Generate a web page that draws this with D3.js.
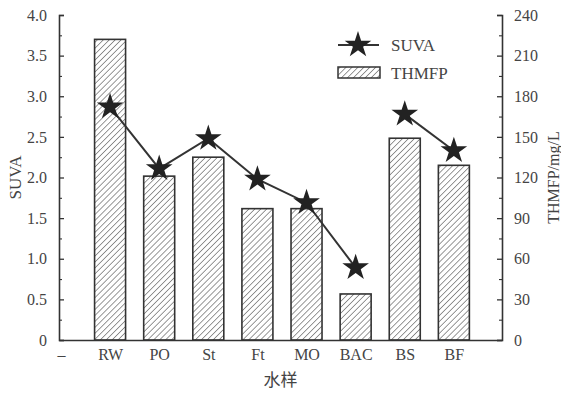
<!DOCTYPE html>
<html>
<head>
<meta charset="utf-8">
<script src="https://cdn.jsdelivr.net/npm/d3@7"></script>
<style>
  body { margin: 0; background: #fff; }
  svg { display: block; }
</style>
</head>
<body>
<div id="chart"></div>
<script>
// tick labels on x axis (first one is the blank "–" slot)
const tickLabels = ['–', 'RW', 'PO', 'St', 'Ft', 'MO', 'BAC', 'BS', 'BF'];
const samples = ['RW', 'PO', 'St', 'Ft', 'MO', 'BAC', 'BS', 'BF'];
const suva = [2.87, 2.11, 2.48, 1.98, 1.69, 0.89, 2.78, 2.33];
const thmfp = [222, 121, 135, 97, 97, 34, 149, 129];
// line segments of the SUVA series
const suvaGroups = [['RW', 'PO', 'St', 'Ft', 'MO', 'BAC'], ['BS', 'BF']];

const width = 561, height = 393;
const margin = {top: 15, right: 59, bottom: 53, left: 59};
const ink = '#333';
const serif = '"Liberation Serif", "Times New Roman", serif';

const svg = d3.select('#chart').append('svg')
  .attr('width', width)
  .attr('height', height);

const defs = svg.append('defs');
const pat = defs.append('pattern')
  .attr('id', 'hatch')
  .attr('patternUnits', 'userSpaceOnUse')
  .attr('width', 4.2).attr('height', 4.2)
  .attr('patternTransform', 'rotate(45)');
pat.append('line')
  .attr('x1', 0).attr('y1', 0).attr('x2', 0).attr('y2', 4.2)
  .attr('stroke', '#444').attr('stroke-width', 1.1);

const x = d3.scaleLinear()
  .domain([-0.04, 8.98])
  .range([margin.left, width - margin.right]);

const yL = d3.scaleLinear()
  .domain([0, 4])
  .range([height - margin.bottom, margin.top]);

const yR = d3.scaleLinear()
  .domain([0, 240])
  .range([height - margin.bottom, margin.top]);

const xPos = s => x(tickLabels.indexOf(s));
const barW = 31;

// bars
svg.append('g')
  .selectAll('rect')
  .data(samples)
  .join('rect')
    .attr('x', d => xPos(d) - barW / 2)
    .attr('y', (d, i) => yR(thmfp[i]))
    .attr('width', barW)
    .attr('height', (d, i) => yR(0) - yR(thmfp[i]))
    .attr('fill', 'url(#hatch)')
    .attr('stroke', ink)
    .attr('stroke-width', 1.6);

// axes
const axisStyle = g => {
  g.select('.domain').attr('stroke', ink).attr('stroke-width', 1.6);
  g.selectAll('.tick line').attr('stroke', ink).attr('stroke-width', 1.3);
  g.selectAll('.tick text')
    .attr('fill', '#444')
    .attr('font-family', serif)
    .attr('font-size', 16);
};

svg.append('g')
  .attr('transform', `translate(${margin.left},0)`)
  .call(d3.axisLeft(yL).tickValues(d3.range(0, 4.01, 0.5)).tickSizeInner(-5).tickSizeOuter(-5).tickPadding(12)
    .tickFormat(d => d === 0 ? '0' : d3.format('.1f')(d)))
  .call(axisStyle);

svg.append('g')
  .attr('transform', `translate(${margin.left},0)`)
  .call(d3.axisLeft(yL).tickValues(d3.range(0.25, 4, 0.5)).tickSize(-3).tickFormat(''))
  .call(g => g.select('.domain').remove())
  .call(g => g.selectAll('.tick line').attr('stroke', ink).attr('stroke-width', 1.1));

svg.append('g')
  .attr('transform', `translate(${width - margin.right},0)`)
  .call(d3.axisRight(yR).tickValues(d3.range(0, 241, 30)).tickSizeInner(-5).tickSizeOuter(-5).tickPadding(12))
  .call(axisStyle);

svg.append('g')
  .attr('transform', `translate(${width - margin.right},0)`)
  .call(d3.axisRight(yR).tickValues(d3.range(15, 240, 30)).tickSize(-3).tickFormat(''))
  .call(g => g.select('.domain').remove())
  .call(g => g.selectAll('.tick line').attr('stroke', ink).attr('stroke-width', 1.1));

svg.append('g')
  .attr('transform', `translate(0,${height - margin.bottom})`)
  .call(d3.axisBottom(x).tickValues(d3.range(tickLabels.length)).tickSize(0).tickSizeOuter(0).tickPadding(9)
    .tickFormat(i => tickLabels[i]))
  .call(axisStyle);

// SUVA line + stars
const line = d3.line()
  .x(d => xPos(d))
  .y(d => yL(suva[samples.indexOf(d)]));

svg.append('g')
  .selectAll('path')
  .data(suvaGroups)
  .join('path')
    .attr('d', line)
    .attr('fill', 'none')
    .attr('stroke', ink)
    .attr('stroke-width', 2);

const star = d3.symbol(d3.symbolStar, 220);
svg.append('g')
  .selectAll('path')
  .data(samples)
  .join('path')
    .attr('d', star)
    .attr('transform', (d, i) => `translate(${xPos(d)},${yL(suva[i])})`)
    .attr('fill', '#222');

// axis titles
svg.append('text')
  .attr('transform', `translate(21,${(margin.top + height - margin.bottom) / 2}) rotate(-90)`)
  .attr('text-anchor', 'middle')
  .attr('font-family', serif)
  .attr('font-size', 17)
  .attr('fill', '#444')
  .text('SUVA');

svg.append('text')
  .attr('transform', `translate(559,${(margin.top + height - margin.bottom) / 2}) rotate(-90)`)
  .attr('text-anchor', 'middle')
  .attr('font-family', serif)
  .attr('font-size', 16)
  .attr('fill', '#444')
  .text('THMFP/mg/L');

svg.append('text')
  .attr('x', (margin.left + width - margin.right) / 2)
  .attr('y', 386)
  .attr('text-anchor', 'middle')
  .attr('font-family', '"Noto Sans CJK SC", sans-serif')
  .attr('font-size', 17)
  .attr('fill', '#444')
  .text('水样');

// legend
const lg = svg.append('g').attr('transform', 'translate(338,45)');
lg.append('line')
  .attr('x1', 0).attr('x2', 41).attr('y1', 0).attr('y2', 0)
  .attr('stroke', ink).attr('stroke-width', 2);
lg.append('path')
  .attr('d', star)
  .attr('transform', 'translate(20,0)')
  .attr('fill', '#222');
lg.append('rect')
  .attr('x', 0).attr('y', 22).attr('width', 42).attr('height', 11)
  .attr('fill', 'url(#hatch)')
  .attr('stroke', ink).attr('stroke-width', 1.5);
lg.selectAll('text')
  .data(['SUVA', 'THMFP'])
  .join('text')
    .attr('x', 53)
    .attr('y', (d, i) => 6 + i * 28)
    .attr('font-family', serif)
    .attr('font-size', 17)
    .attr('fill', '#444')
    .text(d => d);
</script>
</body>
</html>
